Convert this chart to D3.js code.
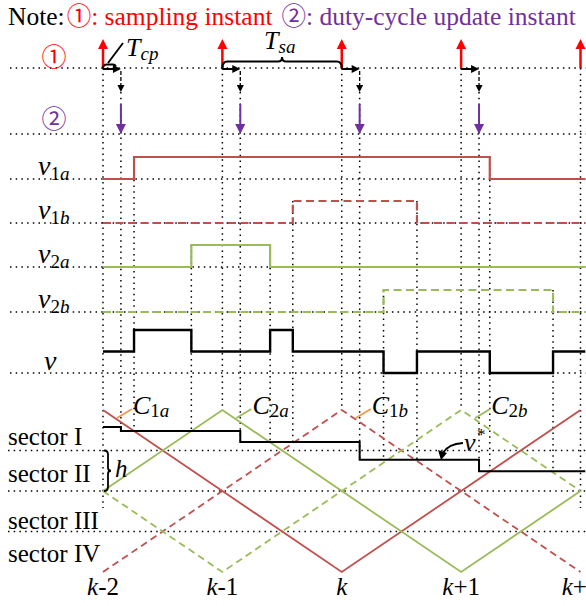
<!DOCTYPE html>
<html>
<head>
<meta charset="utf-8">
<script src="https://cdn.jsdelivr.net/npm/d3@7"></script>
<style>
  body { margin: 0; background: #fff; }
  svg { display: block; font-family: "Liberation Serif", "Times New Roman", serif; }
  .dot { fill: none; stroke: #000; stroke-width: 1.5; stroke-dasharray: 1.5 4.2; }
  .cj { font-family: "Noto Sans CJK SC", "DejaVu Sans", sans-serif; }
</style>
</head>
<body>
<svg id="chart" width="586" height="606"></svg>
<script>
// time axis: sample instants, in sample periods from k-2
const instants = ["k-2", "k-1", "k", "k+1", "k+2"];
const sampleTimes = [0, 1, 2, 3, 4];
const tcp = 0.15; // computation delay (sampling -> duty-cycle update)
const tEnd = 4.04;

// gate signals as [time, level] step points
const v1a = [[0, 0], [0.26, 1], [3.24, 0], [tEnd, 0]];
const v1b = [[0, 0], [1.59, 1], [2.63, 0], [tEnd, 0]];
const v2a = [[0, 0], [0.74, 1], [1.40, 0], [tEnd, 0]];
const v2b = [[0, 0], [2.35, 1], [3.77, 0], [tEnd, 0]];
const vOut = [[0, 0], [0.26, 1], [0.74, 0], [1.40, 1], [1.59, 0], [2.35, -1], [2.63, 0], [3.24, -1], [3.77, 0], [tEnd, 0]];

// reference v* (held, updated at sample+tcp), carrier units 0..4
const vStar = [[0, 3.58], [0.15, 3.48], [1.15, 3.21], [2.15, 2.77], [3.15, 2.49], [tEnd, 2.49]];

// phase-shifted triangular carriers
const c1a = [[0, 4], [2, 0], [4, 4]];
const c2a = [[0, 2], [1, 4], [3, 0], [4, 2]];
const c1b = [[0, 0], [2, 4], [4, 0]];
const c2b = [[0, 2], [1, 0], [3, 4], [4, 2]];

const sectors = ["sector I", "sector II", "sector III", "sector IV"];

const RED = "#c0504d", GREEN = "#9bbb59", PURPLE = "#7030a0", ORANGE = "#f79646";

const svg = d3.select("#chart");
const x = d3.scaleLinear().domain([0, 4]).range([103, 580.5]);
const yC = d3.scaleLinear().domain([0, 4]).range([572, 410]);
const yS = d3.scaleLinear().domain([0, 1]);
const yV = d3.scaleLinear().domain([-1, 1]).range([373, 330]);
const rowSample = 68, rowUpdate = 134;

const rows = [
  {name: "1a", data: v1a, base: 179, color: RED, dash: null},
  {name: "1b", data: v1b, base: 223, color: RED, dash: "8 4.5"},
  {name: "2a", data: v2a, base: 267, color: GREEN, dash: null},
  {name: "2b", data: v2b, base: 312, color: GREEN, dash: "8 4.5"}
];
const hiOff = 22;

// value of v* at time t (after update)
function vStarAt(t) {
  let v = vStar[0][1];
  vStar.forEach(d => { if (d[0] <= t) v = d[1]; });
  return v;
}

// ---------- horizontal dotted guides ----------
[rowSample, rowUpdate].concat(rows.map(r => r.base), [373]).forEach(y => {
  svg.append("line").attr("class", "dot").attr("x1", 10).attr("x2", 586).attr("y1", y).attr("y2", y);
});
[1, 2, 3].forEach(s => {
  svg.append("line").attr("class", "dot").attr("x1", 8).attr("x2", 586)
    .attr("y1", yC(4 - s)).attr("y2", yC(4 - s));
});

// ---------- vertical dotted guides ----------
sampleTimes.forEach(t => {
  const end = (t === 0 || t === 4) ? 508 : yC(4);
  svg.append("line").attr("class", "dot").attr("x1", x(t)).attr("x2", x(t)).attr("y1", rowSample).attr("y2", end);
});
sampleTimes.slice(0, 4).forEach(t => {
  const xu = x(t + tcp);
  svg.append("line").attr("class", "dot").attr("x1", xu).attr("x2", xu)
    .attr("y1", 92).attr("y2", yC(vStarAt(t + tcp)));
});
rows.forEach(r => {
  r.data.slice(1, -1).forEach(d => {
    svg.append("line").attr("class", "dot").attr("x1", x(d[0])).attr("x2", x(d[0]))
      .attr("y1", r.base - hiOff).attr("y2", yC(vStarAt(d[0])));
  });
});

// ---------- arrows ----------
function head(px, py, dir, size, color) {
  const w = size * 0.5;
  let pts;
  if (dir === "up") pts = [[px, py], [px - w, py + size], [px + w, py + size]];
  else if (dir === "down") pts = [[px, py], [px - w, py - size], [px + w, py - size]];
  else pts = [[px, py], [px - size, py - w], [px - size, py + w]];
  svg.append("path").attr("d", "M" + pts.join("L") + "Z").attr("fill", color);
}
sampleTimes.forEach(t => {
  svg.append("line").attr("x1", x(t)).attr("x2", x(t)).attr("y1", rowSample).attr("y2", 46)
    .attr("stroke", "#f00").attr("stroke-width", 2.5);
  head(x(t), 39, "up", 10, "#f00");
});
sampleTimes.slice(0, 4).forEach(t => {
  const xs = x(t), xu = x(t + tcp);
  svg.append("line").attr("x1", xs).attr("x2", xu - 6).attr("y1", rowSample + 1).attr("y2", rowSample + 1)
    .attr("stroke", "#000").attr("stroke-width", 2);
  head(xu, rowSample + 1, "right", 8, "#000");
  svg.append("line").attr("x1", xu).attr("x2", xu).attr("y1", 71).attr("y2", 86)
    .attr("stroke", "#000").attr("stroke-width", 1.3).attr("stroke-dasharray", "4 2");
  head(xu, 92, "down", 7, "#000");
  svg.append("line").attr("x1", xu).attr("x2", xu).attr("y1", 104).attr("y2", 126)
    .attr("stroke", PURPLE).attr("stroke-width", 2);
  head(xu, rowUpdate, "down", 10, PURPLE);
});

// Tcp small brace and Tsa brace
svg.append("path")
  .attr("d", `M${x(0)},${rowSample}Q${x(0)},64.5 ${x(0) + 4},64.5L${x(0) + 10},64.5Q${x(0) + 12},64.5 ${x(0) + 13},66.5`)
  .attr("fill", "none").attr("stroke", "#000").attr("stroke-width", 1.8);
svg.append("line").attr("x1", x(0) + 5).attr("y1", 63).attr("x2", x(0) + 20).attr("y2", 43)
  .attr("stroke", "#000").attr("stroke-width", 1.8);
{
  const a = x(1), b = x(2), m = (a + b) / 2, yb = 61.5;
  svg.append("path")
    .attr("d", `M${a},${rowSample}Q${a},${yb} ${a + 5},${yb}L${m - 4},${yb}Q${m},${yb} ${m},${yb - 4.5}Q${m},${yb} ${m + 4},${yb}L${b - 5},${yb}Q${b},${yb} ${b},${rowSample}`)
    .attr("fill", "none").attr("stroke", "#000").attr("stroke-width", 2);
}

// ---------- gate signals ----------
const step = d3.line().curve(d3.curveStepAfter);
rows.forEach(r => {
  const sy = yS.copy().range([r.base, r.base - hiOff]);
  svg.append("path").attr("d", step(r.data.map(d => [x(d[0]), sy(d[1])])))
    .attr("fill", "none").attr("stroke", r.color).attr("stroke-width", 2.2)
    .attr("stroke-dasharray", r.dash);
});
svg.append("path").attr("d", step(vOut.map(d => [x(d[0]), yV(d[1])])))
  .attr("fill", "none").attr("stroke", "#000").attr("stroke-width", 2.4);

// ---------- carriers and reference ----------
const lin = d3.line().x(d => x(d[0])).y(d => yC(d[1]));
[[c1a, RED, null], [c2a, GREEN, null], [c1b, RED, "7 4.5"], [c2b, GREEN, "7 4.5"]].forEach(([c, col, dash]) => {
  svg.append("path").attr("d", lin(c)).attr("fill", "none").attr("stroke", col)
    .attr("stroke-width", 1.8).attr("stroke-dasharray", dash);
});
svg.append("path").attr("d", step(vStar.map(d => [x(d[0]), yC(d[1])])))
  .attr("fill", "none").attr("stroke", "#000").attr("stroke-width", 2);

// h brace
{
  const bx = x(0) + 1, y1 = yC(3), y2 = yC(2), ym = (y1 + y2) / 2;
  svg.append("path")
    .attr("d", `M${bx},${y1}Q${bx + 4},${y1} ${bx + 4},${y1 + 4}L${bx + 4},${ym - 3}Q${bx + 4},${ym} ${bx + 7},${ym}Q${bx + 4},${ym} ${bx + 4},${ym + 3}L${bx + 4},${y2 - 4}Q${bx + 4},${y2} ${bx},${y2}`)
    .attr("fill", "none").attr("stroke", "#000").attr("stroke-width", 1.8);
}

// ---------- text ----------
const title = svg.append("text").attr("x", 8).attr("y", 25).attr("font-size", 25.5);
title.append("tspan").text("Note:");
title.append("tspan").attr("class", "cj").attr("fill", "#f00").attr("font-size", 24.5).attr("dx", 2).text("①");
title.append("tspan").attr("fill", "#f00").text(": sampling instant");
title.append("tspan").attr("class", "cj").attr("fill", PURPLE).attr("font-size", 24.5).attr("dx", 9).text("②");
title.append("tspan").attr("fill", PURPLE).text(": duty-cycle update instant");

svg.append("text").attr("class", "cj").attr("x", 54).attr("y", 66).attr("text-anchor", "middle")
  .attr("font-size", 25).attr("fill", "#f00").text("①");
svg.append("text").attr("class", "cj").attr("x", 54).attr("y", 128).attr("text-anchor", "middle")
  .attr("font-size", 25).attr("fill", PURPLE).text("②");

function subLabel(px, py, main, sub, size, subSize, subDy) {
  const t = svg.append("text").attr("x", px).attr("y", py).attr("font-size", size);
  t.append("tspan").attr("font-style", "italic").text(main);
  if (sub) {
    t.append("tspan").attr("font-size", subSize).attr("dy", subDy).text(sub[0]);
    if (sub.length > 1) t.append("tspan").attr("font-size", subSize).attr("font-style", "italic").text(sub.slice(1));
  }
  return t;
}
rows.forEach(r => subLabel(38, r.base - 4, "v", r.name, 28, 19, 5));
subLabel(44, 370, "v", null, 28);

subLabel(126, 56, "T", "cp", 26, 19, 4).select("tspan:nth-child(2)").attr("font-style", "italic");
subLabel(264, 49, "T", "sa", 26, 19, 4).select("tspan:nth-child(2)").attr("font-style", "italic");

// carrier labels with leaders
const cLabels = [["1a", 0, ORANGE], ["2a", 1, GREEN], ["1b", 2, ORANGE], ["2b", 3, GREEN]];
cLabels.forEach(([s, t, col]) => {
  const lx = x(t) + 14;
  svg.append("line").attr("x1", lx).attr("y1", 418).attr("x2", lx + 15).attr("y2", 409)
    .attr("stroke", col).attr("stroke-width", 1.8);
  subLabel(lx + 16, 414, "C", s, 26, 19, 3);
});

// v* label and arrow
subLabel(464, 451, "v", null, 26);
svg.append("text").attr("x", 477).attr("y", 440).attr("font-size", 17).text("*");
svg.append("path").attr("d", "M463,443Q448,444 443,453").attr("fill", "none")
  .attr("stroke", "#000").attr("stroke-width", 2);
svg.append("path").attr("d", "M441,460L438,450L447,453Z").attr("fill", "#000");

svg.append("text").attr("x", 115).attr("y", 477).attr("font-size", 25)
  .attr("font-style", "italic").text("h");

sectors.forEach((s, i) => {
  svg.append("text").attr("x", 8).attr("y", [445, 482, 529, 562][i]).attr("font-size", 25).text(s);
});

instants.forEach((k, i) => {
  const t = svg.append("text").attr("x", x(sampleTimes[i])).attr("y", 595)
    .attr("text-anchor", "middle").attr("font-size", 25);
  t.append("tspan").attr("font-style", "italic").text("k");
  t.append("tspan").text(k.slice(1));
});
</script>
</body>
</html>
